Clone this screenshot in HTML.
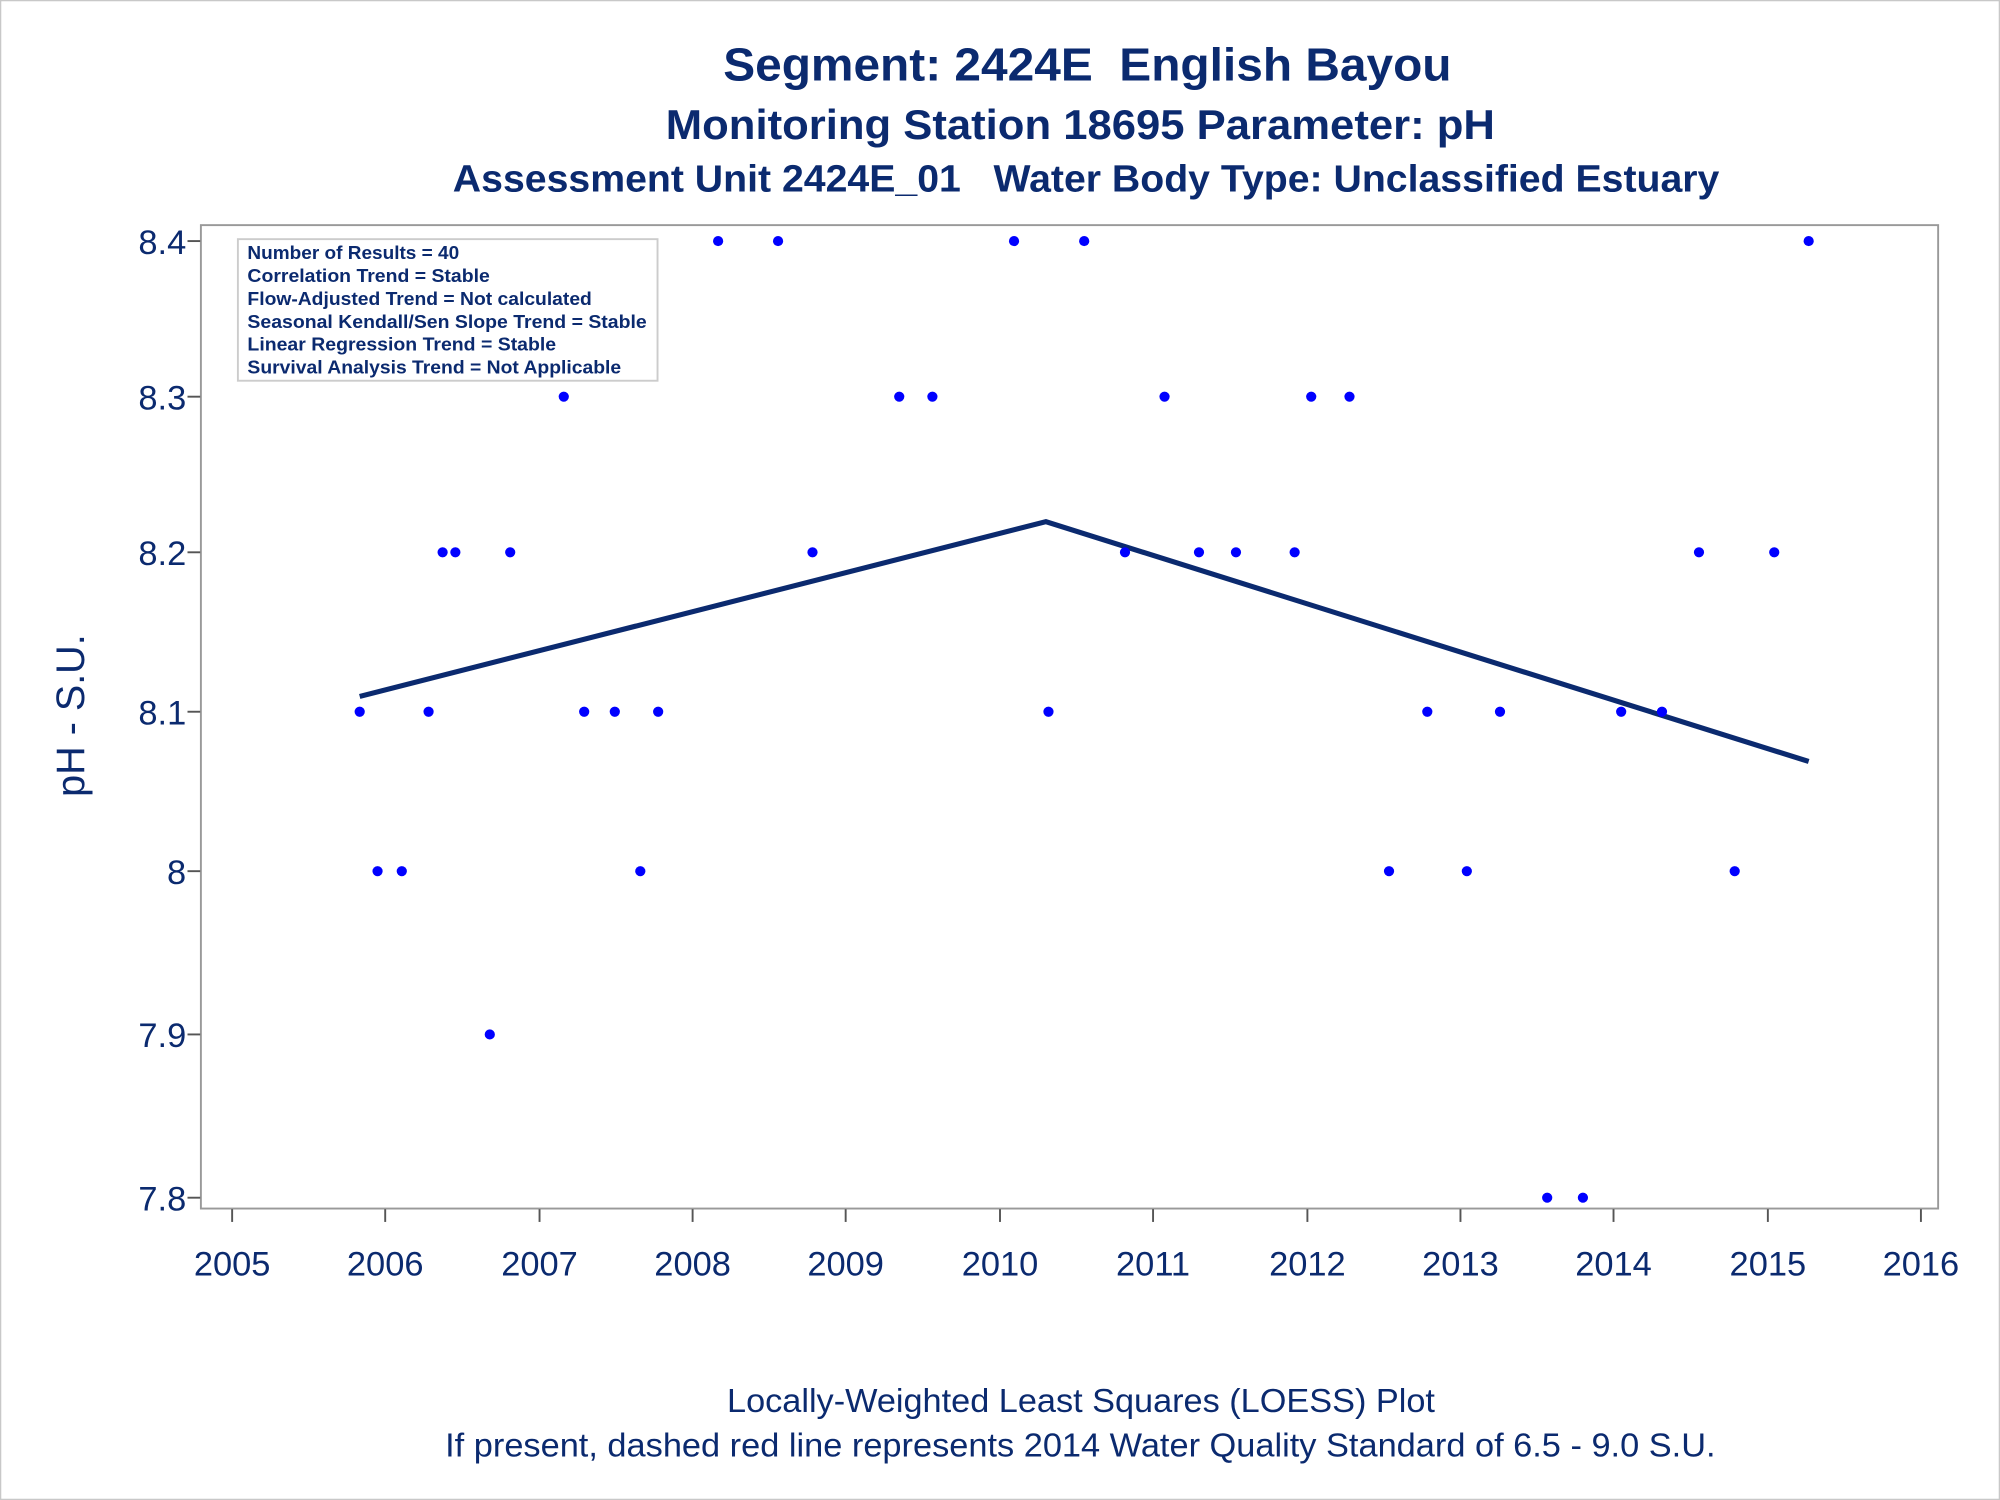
<!DOCTYPE html>
<html><head><meta charset="utf-8"><style>
html,body{margin:0;padding:0;background:#fff;}
svg{display:block;}
text{font-family:"Liberation Sans",Arial,sans-serif;fill:#0b2a6f;}
</style></head><body>
<svg width="2000" height="1500" viewBox="0 0 1568 1176" xmlns="http://www.w3.org/2000/svg">
<rect x="0.5" y="0.5" width="1567" height="1175" fill="#fff" stroke="#c8c8c8" stroke-width="1"/>
<text x="567" y="63" font-size="36" font-weight="bold" textLength="571" lengthAdjust="spacingAndGlyphs" xml:space="preserve">Segment: 2424E  English Bayou</text>
<text x="522" y="109" font-size="33" font-weight="bold" textLength="650" lengthAdjust="spacingAndGlyphs">Monitoring Station 18695 Parameter: pH</text>
<text x="355" y="150" font-size="29.5" font-weight="bold" textLength="993" lengthAdjust="spacingAndGlyphs" xml:space="preserve">Assessment Unit 2424E_01   Water Body Type: Unclassified Estuary</text>
<rect x="157.5" y="176.5" width="1362" height="771" fill="#fff" stroke="#999" stroke-width="1.5"/>
<rect x="186.5" y="187.5" width="329" height="111" fill="#fff" stroke="#ccc" stroke-width="1.5"/>
<g font-size="14.5" font-weight="bold">
<text x="194" y="203" textLength="166" lengthAdjust="spacingAndGlyphs">Number of Results = 40</text>
<text x="194" y="221" textLength="190" lengthAdjust="spacingAndGlyphs">Correlation Trend = Stable</text>
<text x="194" y="239" textLength="270" lengthAdjust="spacingAndGlyphs">Flow-Adjusted Trend = Not calculated</text>
<text x="194" y="257" textLength="313" lengthAdjust="spacingAndGlyphs">Seasonal Kendall/Sen Slope Trend = Stable</text>
<text x="194" y="275" textLength="242" lengthAdjust="spacingAndGlyphs">Linear Regression Trend = Stable</text>
<text x="194" y="293" textLength="293" lengthAdjust="spacingAndGlyphs">Survival Analysis Trend = Not Applicable</text>
</g>
<g stroke="#555" stroke-width="1.5">
<line x1="147" y1="189" x2="157" y2="189"/><line x1="147" y1="311" x2="157" y2="311"/>
<line x1="147" y1="433" x2="157" y2="433"/><line x1="147" y1="558" x2="157" y2="558"/>
<line x1="147" y1="683" x2="157" y2="683"/><line x1="147" y1="811" x2="157" y2="811"/>
<line x1="147" y1="939" x2="157" y2="939"/>
<line x1="182" y1="948" x2="182" y2="958"/><line x1="302" y1="948" x2="302" y2="958"/>
<line x1="423" y1="948" x2="423" y2="958"/><line x1="543" y1="948" x2="543" y2="958"/>
<line x1="663" y1="948" x2="663" y2="958"/><line x1="784" y1="948" x2="784" y2="958"/>
<line x1="904" y1="948" x2="904" y2="958"/><line x1="1025" y1="948" x2="1025" y2="958"/>
<line x1="1145" y1="948" x2="1145" y2="958"/><line x1="1265" y1="948" x2="1265" y2="958"/>
<line x1="1386" y1="948" x2="1386" y2="958"/><line x1="1506" y1="948" x2="1506" y2="958"/>
</g>
<g font-size="27" text-anchor="end">
<text x="146" y="199">8.4</text><text x="146" y="321">8.3</text><text x="146" y="443">8.2</text>
<text x="146" y="568">8.1</text><text x="146" y="693">8</text><text x="146" y="821">7.9</text>
<text x="146" y="949">7.8</text>
</g>
<g font-size="27" text-anchor="middle">
<text x="182" y="1000">2005</text><text x="302" y="1000">2006</text><text x="423" y="1000">2007</text>
<text x="543" y="1000">2008</text><text x="663" y="1000">2009</text><text x="784" y="1000">2010</text>
<text x="904" y="1000">2011</text><text x="1025" y="1000">2012</text><text x="1145" y="1000">2013</text>
<text x="1265" y="1000">2014</text><text x="1386" y="1000">2015</text><text x="1506" y="1000">2016</text>
</g>
<text transform="translate(66,561) rotate(-90)" text-anchor="middle" font-size="31">pH - S.U.</text>
<polyline points="282,546 820,409 1418,597" fill="none" stroke="#0b2a6f" stroke-width="4"/>
<g fill="#0000ff">
<circle cx="282" cy="558" r="4"/><circle cx="296" cy="683" r="4"/><circle cx="315" cy="683" r="4"/>
<circle cx="336" cy="558" r="4"/><circle cx="347" cy="433" r="4"/><circle cx="357" cy="433" r="4"/>
<circle cx="384" cy="811" r="4"/><circle cx="400" cy="433" r="4"/><circle cx="442" cy="311" r="4"/>
<circle cx="458" cy="558" r="4"/><circle cx="482" cy="558" r="4"/><circle cx="502" cy="683" r="4"/>
<circle cx="516" cy="558" r="4"/><circle cx="563" cy="189" r="4"/><circle cx="610" cy="189" r="4"/>
<circle cx="637" cy="433" r="4"/><circle cx="705" cy="311" r="4"/><circle cx="731" cy="311" r="4"/>
<circle cx="795" cy="189" r="4"/><circle cx="822" cy="558" r="4"/><circle cx="850" cy="189" r="4"/>
<circle cx="882" cy="433" r="4"/><circle cx="913" cy="311" r="4"/><circle cx="940" cy="433" r="4"/>
<circle cx="969" cy="433" r="4"/><circle cx="1015" cy="433" r="4"/><circle cx="1028" cy="311" r="4"/>
<circle cx="1058" cy="311" r="4"/><circle cx="1089" cy="683" r="4"/><circle cx="1119" cy="558" r="4"/>
<circle cx="1150" cy="683" r="4"/><circle cx="1176" cy="558" r="4"/><circle cx="1213" cy="939" r="4"/>
<circle cx="1241" cy="939" r="4"/><circle cx="1271" cy="558" r="4"/><circle cx="1303" cy="558" r="4"/>
<circle cx="1332" cy="433" r="4"/><circle cx="1360" cy="683" r="4"/><circle cx="1391" cy="433" r="4"/>
<circle cx="1418" cy="189" r="4"/>
</g>
<text x="570" y="1107" font-size="26" textLength="555" lengthAdjust="spacingAndGlyphs">Locally-Weighted Least Squares (LOESS) Plot</text>
<text x="349" y="1142" font-size="26" textLength="996" lengthAdjust="spacingAndGlyphs">If present, dashed red line represents 2014 Water Quality Standard of 6.5 - 9.0 S.U.</text>
</svg>
</body></html>
